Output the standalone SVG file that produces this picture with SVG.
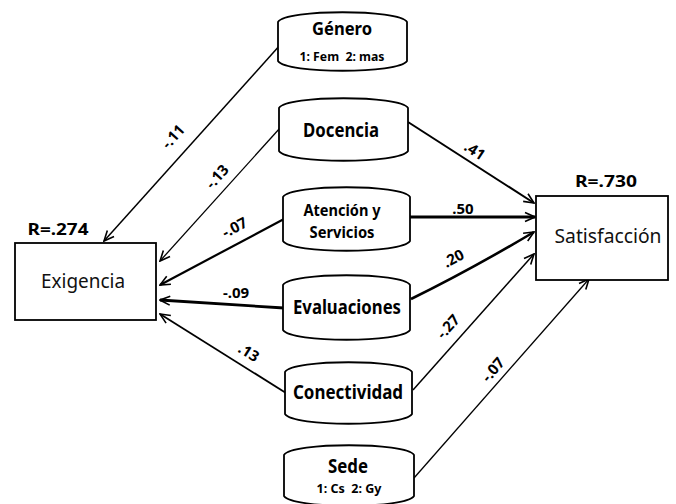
<svg xmlns="http://www.w3.org/2000/svg" width="676" height="504" viewBox="0 0 676 504">
<style>
.node{fill:#fff;stroke:#000;stroke-width:1.8}
.box{fill:#fff;stroke:#000;stroke-width:1.8}
.t{font-family:"Noto Sans","Open Sans",sans-serif;font-weight:bold;fill:#000;text-anchor:middle}
.n{font-family:"Noto Sans","Open Sans",sans-serif;fill:#111;text-anchor:middle}
.lab{font-family:"Noto Sans","Open Sans",sans-serif;font-weight:bold;font-size:15px;fill:#000;text-anchor:middle}
.c{fill:none;stroke:#000}
</style>
<defs>
<marker id="ah" markerUnits="userSpaceOnUse" markerWidth="12" markerHeight="12" viewBox="0 0 12 12" refX="11" refY="6" orient="auto">
<path d="M1,1.5 L11,6 L1,10.5" fill="none" stroke="#000" stroke-width="1.6"/>
</marker>
</defs>
<rect width="676" height="504" fill="#fff"/>
<g id="connectors">
<line class="c" x1="281" y1="44" x2="104" y2="241" stroke-width="1.5" marker-end="url(#ah)"/>
<line class="c" x1="280" y1="128" x2="160" y2="261" stroke-width="1.3" marker-end="url(#ah)"/>
<line class="c" x1="284" y1="219" x2="160" y2="285" stroke-width="2.2" marker-end="url(#ah)"/>
<line class="c" x1="284" y1="308" x2="160" y2="300" stroke-width="2.8" marker-end="url(#ah)"/>
<line class="c" x1="286" y1="393" x2="160" y2="314" stroke-width="1.8" marker-end="url(#ah)"/>
<line class="c" x1="408" y1="122" x2="534" y2="203" stroke-width="2" marker-end="url(#ah)"/>
<line class="c" x1="410" y1="217" x2="535" y2="217" stroke-width="3" marker-end="url(#ah)"/>
<path class="c" d="M411,299 Q470,270 534,232" stroke-width="2.6" marker-end="url(#ah)"/>
<line class="c" x1="413" y1="390" x2="534" y2="254" stroke-width="1.5" marker-end="url(#ah)"/>
<line class="c" x1="414" y1="478" x2="589" y2="279" stroke-width="1.3" marker-end="url(#ah)"/>
<text class="lab" transform="translate(177,140) rotate(-48)">-.11</text>
<text class="lab" transform="translate(221,180) rotate(-48)">-.13</text>
<text class="lab" transform="translate(237,232) rotate(-28)">-.07</text>
<text class="lab" transform="translate(236,298)">-.09</text>
<text class="lab" transform="translate(246,357) rotate(32)">.13</text>
<text class="lab" transform="translate(472,155) rotate(33)">.41</text>
<text class="lab" transform="translate(463,214)">.50</text>
<text class="lab" transform="translate(456,263) rotate(-28)">.20</text>
<text class="lab" transform="translate(452,330) rotate(-48)">-.27</text>
<text class="lab" transform="translate(497,373) rotate(-50)">-.07</text>
</g>
<g id="exigencia">
<rect class="box" x="15" y="243" width="141" height="77"/>
<text class="n" x="83" y="288" font-size="19" textLength="84" lengthAdjust="spacingAndGlyphs">Exigencia</text>
<text class="t" x="58" y="235" font-size="16" textLength="61" lengthAdjust="spacingAndGlyphs">R=.274</text>
</g>
<g id="satisfaccion">
<rect class="box" x="536" y="196" width="132" height="84"/>
<text class="n" x="608" y="243" font-size="19" textLength="107" lengthAdjust="spacingAndGlyphs">Satisfacción</text>
<text class="t" x="606" y="187" font-size="16" textLength="62" lengthAdjust="spacingAndGlyphs">R=.730</text>
</g>
<g id="genero">
<path class="node" d="M278,22 C286,9 399,9 407,22 L407,61 C399,74 286,74 278,61 Z"/>
<text class="t" x="342" y="35" font-size="18" textLength="60" lengthAdjust="spacingAndGlyphs">Género</text>
<text class="t" x="342" y="61" font-size="13" textLength="85" lengthAdjust="spacingAndGlyphs">1: Fem&#160; 2: mas</text>
</g>
<g id="docencia">
<path class="node" d="M279,108 C287,95 400,95 408,108 L408,151 C400,164 287,164 279,151 Z"/>
<text class="t" x="341" y="137" font-size="19" textLength="76" lengthAdjust="spacingAndGlyphs">Docencia</text>
</g>
<g id="atencion">
<path class="node" d="M283,197 C291,184 402,184 410,197 L410,241 C402,254 291,254 283,241 Z"/>
<text class="t" x="342" y="216" font-size="16" textLength="77" lengthAdjust="spacingAndGlyphs">Atención y</text>
<text class="t" x="342" y="238" font-size="16" textLength="65" lengthAdjust="spacingAndGlyphs">Servicios</text>
</g>
<g id="evaluaciones">
<path class="node" d="M283,285 C291,272 402,272 410,285 L410,330 C402,343 291,343 283,330 Z"/>
<text class="t" x="347" y="314" font-size="19" textLength="108" lengthAdjust="spacingAndGlyphs">Evaluaciones</text>
</g>
<g id="conectividad">
<path class="node" d="M285,372 C293,359 404,359 412,372 L412,414 C404,427 293,427 285,414 Z"/>
<text class="t" x="348" y="399" font-size="19" textLength="110" lengthAdjust="spacingAndGlyphs">Conectividad</text>
</g>
<g id="sede">
<path class="node" d="M284,455 C292,442 406,442 414,455 L414,496 C406,509 292,509 284,496 Z"/>
<text class="t" x="348" y="473" font-size="20" textLength="40" lengthAdjust="spacingAndGlyphs">Sede</text>
<text class="t" x="349" y="493" font-size="13" textLength="65" lengthAdjust="spacingAndGlyphs">1: Cs&#160; 2: Gy</text>
</g>
</svg>
